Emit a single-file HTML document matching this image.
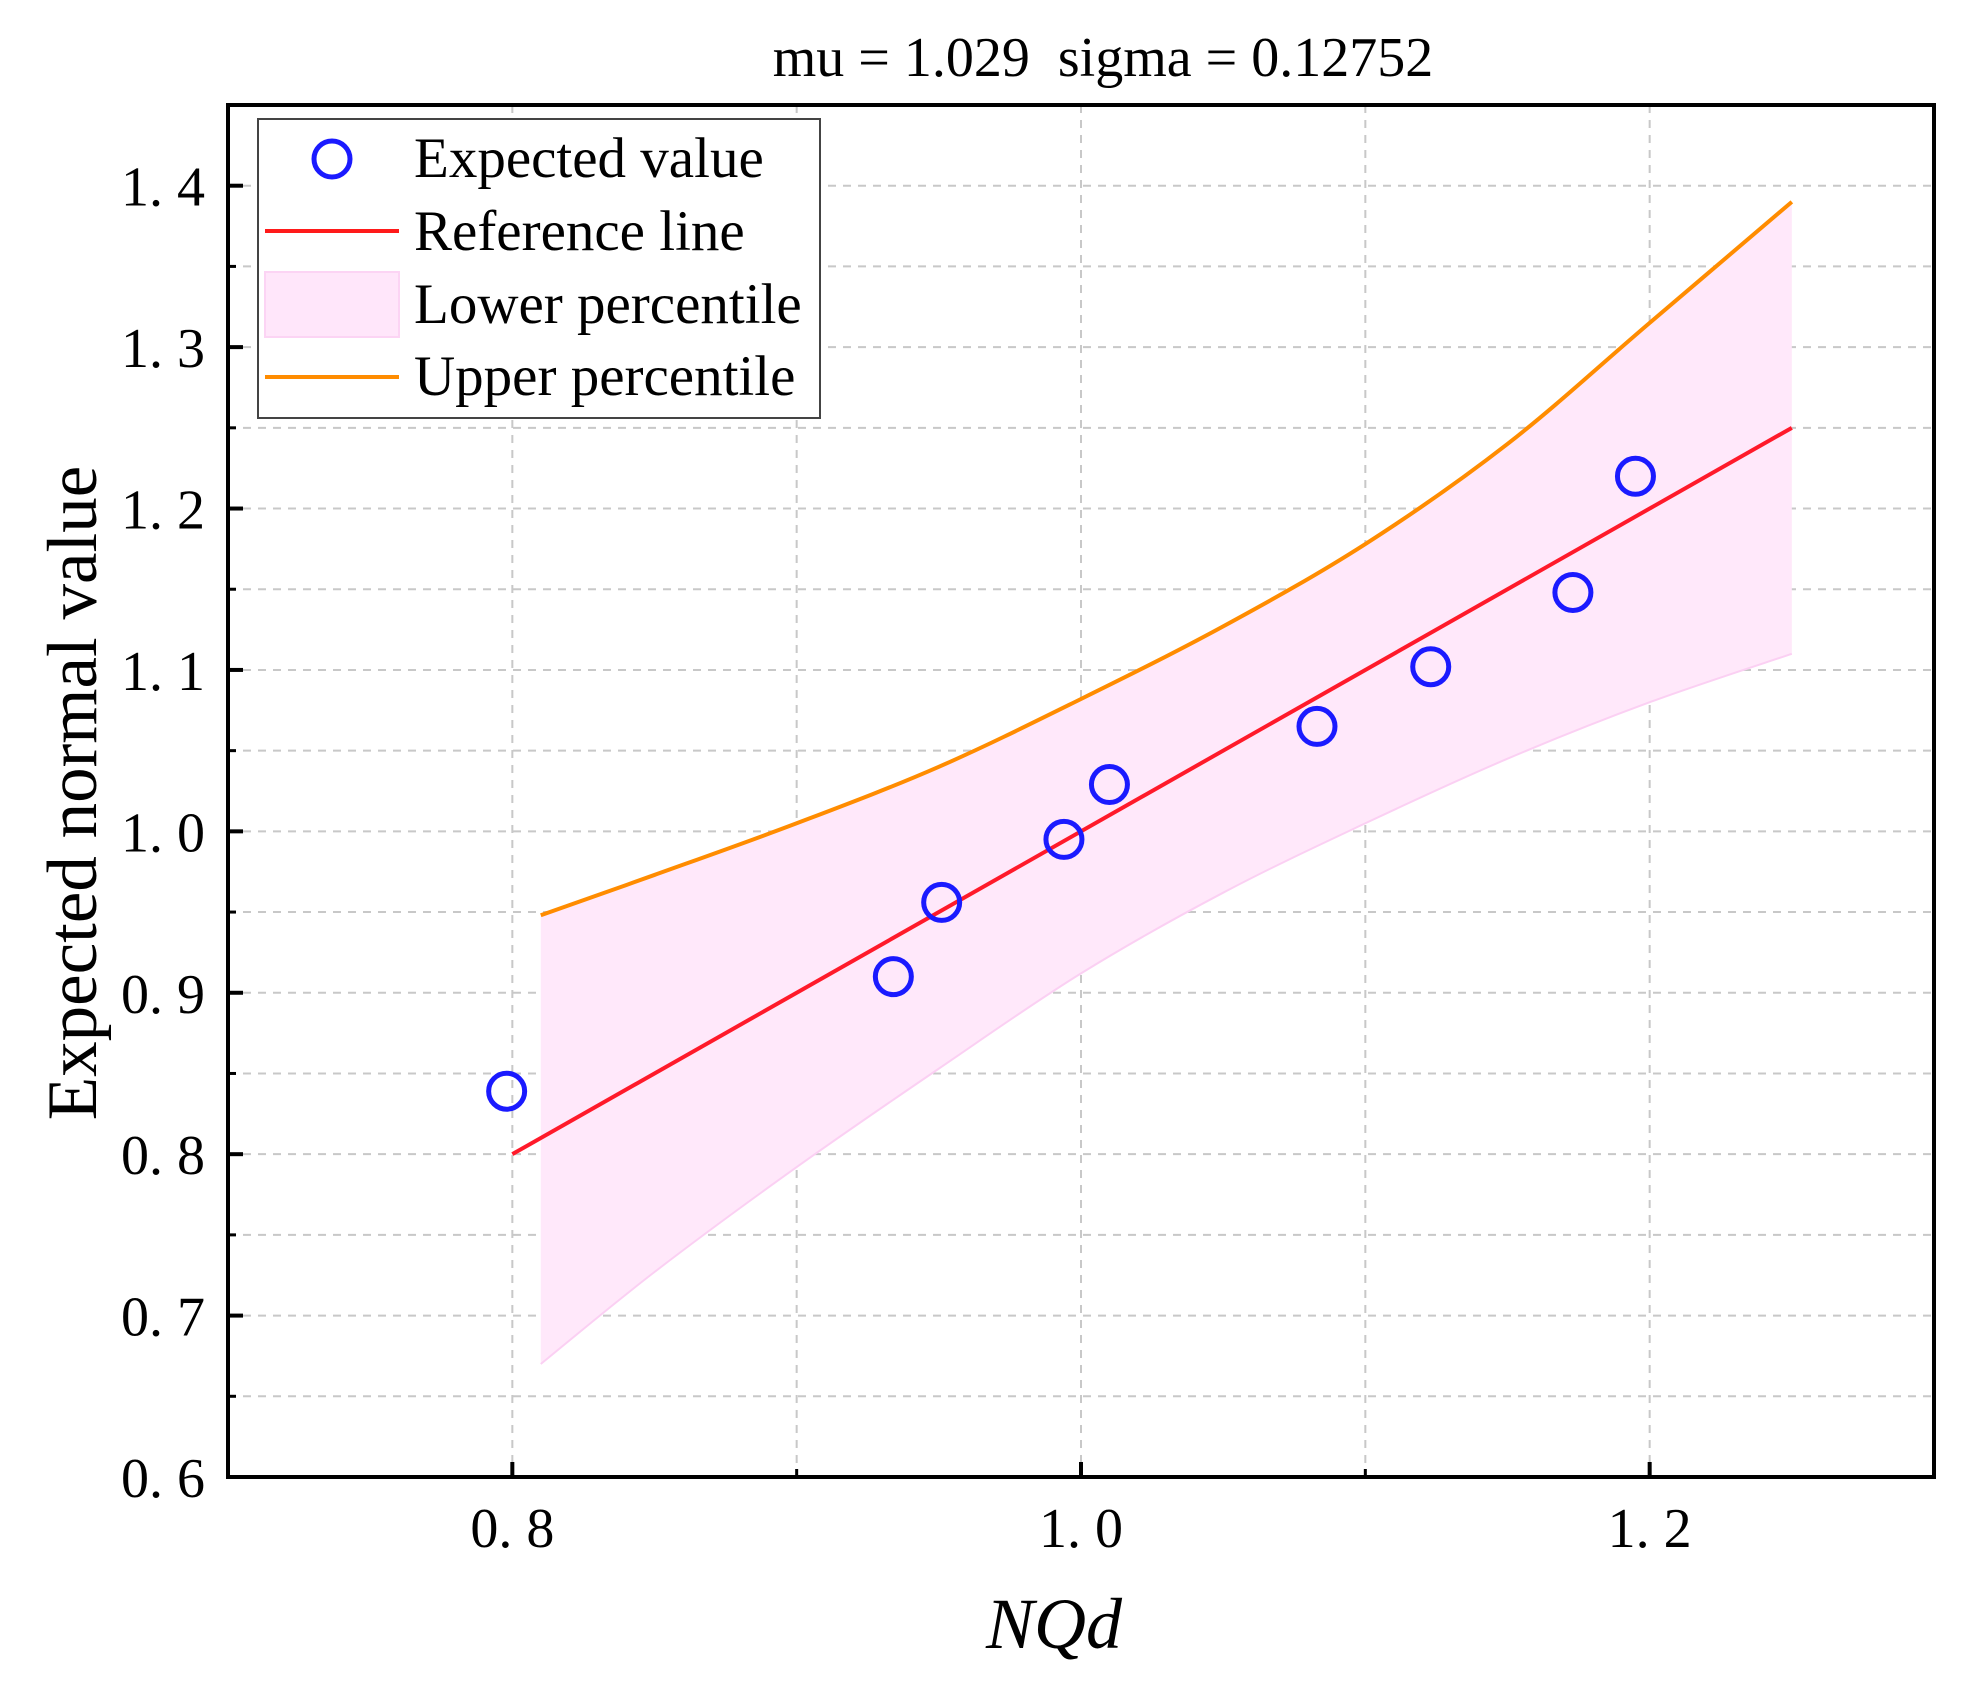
<!DOCTYPE html>
<html><head><meta charset="utf-8"><style>
html,body{margin:0;padding:0;background:#fff;}
svg{display:block;font-family:"Liberation Serif","Noto Serif CJK SC",serif;}
</style></head><body>
<svg id="chart" width="1978" height="1695" viewBox="0 0 1978 1695" xmlns="http://www.w3.org/2000/svg">
<text x="1103" y="76" font-size="56" text-anchor="middle" style="white-space:pre">mu = 1.029  sigma = 0.12752</text>
<g id="grid"></g>
<g id="band"></g>
<g id="lines"></g>
<g id="points"></g>
<rect x="228" y="105" width="1706" height="1372" fill="none" stroke="#000" stroke-width="4"/>
<g id="ticks"></g>
<text transform="translate(96,793) rotate(-90)" font-size="71" text-anchor="middle">Expected normal value</text>
<text x="1054" y="1648" font-size="72" font-style="italic" text-anchor="middle">NQd</text>
<g>
<rect x="258" y="119" width="562" height="299" fill="#fff" stroke="#444" stroke-width="2"/>
<circle cx="332" cy="159" r="18" fill="none" stroke="#1a1aff" stroke-width="5"/>
<text x="414" y="177" font-size="57">Expected value</text>
<line x1="265" y1="231" x2="399" y2="231" stroke="#ff1a1a" stroke-width="4"/>
<text x="414" y="250" font-size="57">Reference line</text>
<rect x="265" y="272" width="134" height="65" fill="#ffe6fa" stroke="#fcd4f4" stroke-width="2"/>
<text x="414" y="323" font-size="57">Lower percentile</text>
<line x1="265" y1="377" x2="399" y2="377" stroke="#ff8c00" stroke-width="4"/>
<text x="414" y="395" font-size="57">Upper percentile</text>
</g>
</svg>
<script>
const pointX = [0.798, 0.934, 0.951, 0.994, 1.010, 1.083, 1.123, 1.173, 1.195];
const pointY = [0.839, 0.910, 0.956, 0.995, 1.029, 1.065, 1.102, 1.148, 1.220];
const bandX = [0.81, 0.85, 0.90, 0.95, 1.00, 1.05, 1.10, 1.15, 1.20, 1.25];
const upperY = [0.948, 0.973, 1.005, 1.040, 1.082, 1.127, 1.178, 1.240, 1.315, 1.390];
const lowerY = [0.670, 0.727, 0.792, 0.853, 0.912, 0.962, 1.005, 1.045, 1.080, 1.110];
const refX = [0.80, 1.25];
const refY = [0.80, 1.25];
const xTickVals = [0.8, 1.0, 1.2];
const xTickLabels = ["0. 8", "1. 0", "1. 2"];
const xMinorVals = [0.9, 1.1];
const yTickVals = [0.6, 0.7, 0.8, 0.9, 1.0, 1.1, 1.2, 1.3, 1.4];
const yTickLabels = ["0. 6", "0. 7", "0. 8", "0. 9", "1. 0", "1. 1", "1. 2", "1. 3", "1. 4"];
const yMinorVals = [0.65, 0.75, 0.85, 0.95, 1.05, 1.15, 1.25, 1.35];

const X0 = 228, X1 = 1934, Y0 = 1477, Y1 = 105;
const sx = v => X0 + (v - 0.7) / 0.6 * (X1 - X0);
const sy = v => Y0 - (v - 0.6) / 0.85 * (Y0 - Y1);
const NS = "http://www.w3.org/2000/svg";
function mk(tag, attrs, parent) {
  const e = document.createElementNS(NS, tag);
  for (const k in attrs) e.setAttribute(k, attrs[k]);
  parent.appendChild(e);
  return e;
}
function smooth(xs, ys, start) {
  const p = xs.map((x, i) => [sx(x), sy(ys[i])]);
  let d = (start ? 'M' : 'L') + p[0][0] + ',' + p[0][1];
  for (let i = 0; i < p.length - 1; i++) {
    const p0 = p[Math.max(i - 1, 0)], p1 = p[i], p2 = p[i + 1], p3 = p[Math.min(i + 2, p.length - 1)];
    const c1 = [p1[0] + (p2[0] - p0[0]) / 6, p1[1] + (p2[1] - p0[1]) / 6];
    const c2 = [p2[0] - (p3[0] - p1[0]) / 6, p2[1] - (p3[1] - p1[1]) / 6];
    d += 'C' + c1 + ' ' + c2 + ' ' + p2;
  }
  return d;
}
const grid = document.getElementById('grid');
const ticks = document.getElementById('ticks');
[...xTickVals, ...xMinorVals].forEach(v => {
  const l = mk('line', {x1: sx(v), x2: sx(v), y1: Y1, y2: Y0, stroke: '#c8c8c8', 'stroke-width': 2, 'stroke-dasharray': '8 7'}, grid);
  
  
});
[...yTickVals, ...yMinorVals].forEach(v => {
  const l = mk('line', {x1: X0, x2: X1, y1: sy(v), y2: sy(v), stroke: '#c8c8c8', 'stroke-width': 2, 'stroke-dasharray': '8 7'}, grid);
  
  
});
const rx = bandX.slice().reverse(), rl = lowerY.slice().reverse();
const dBand = smooth(bandX, upperY, true) + smooth(rx, rl, false) + 'Z';
const band = mk('path', {d: dBand, fill: '#ffe8fa', stroke: 'none'}, document.getElementById('band'));


const lowEdge = mk('path', {d: smooth(bandX, lowerY, true), fill: 'none', stroke: '#fbd0f3', 'stroke-width': 2}, document.getElementById('band'));


const lines = document.getElementById('lines');
const ref = mk('line', {x1: sx(refX[0]), y1: sy(refY[0]), x2: sx(refX[1]), y2: sy(refY[1]), stroke: '#ff1a2a', 'stroke-width': 4}, lines);


const up = mk('path', {d: smooth(bandX, upperY, true), fill: 'none', stroke: '#ff8c00', 'stroke-width': 4}, lines);


const pts = document.getElementById('points');
pointX.forEach((x, i) => {
  const c = mk('circle', {cx: sx(x), cy: sy(pointY[i]), r: 18, fill: 'none', stroke: '#1a1aff', 'stroke-width': 5}, pts);
  
  
});
xTickVals.forEach((v, i) => {
  const t = mk('line', {x1: sx(v), x2: sx(v), y1: Y0, y2: Y0 - 15, stroke: '#000', 'stroke-width': 4}, ticks);
  
  
  const lb = mk('text', {x: sx(v), y: 1547, 'font-size': 56, 'text-anchor': 'middle'}, ticks);
  lb.textContent = xTickLabels[i];
  
  
});
xMinorVals.forEach(v => {
  const t = mk('line', {x1: sx(v), x2: sx(v), y1: Y0, y2: Y0 - 8, stroke: '#000', 'stroke-width': 3}, ticks);
  
  
});
yTickVals.forEach((v, i) => {
  const t = mk('line', {x1: X0, x2: X0 + 15, y1: sy(v), y2: sy(v), stroke: '#000', 'stroke-width': 4}, ticks);
  
  
  const lb = mk('text', {x: 205, y: sy(v) + 20, 'font-size': 56, 'text-anchor': 'end'}, ticks);
  lb.textContent = yTickLabels[i];
  
  
});
yMinorVals.forEach(v => {
  const t = mk('line', {x1: X0, x2: X0 + 8, y1: sy(v), y2: sy(v), stroke: '#000', 'stroke-width': 3}, ticks);
  
  
});
</script>
</body></html>
